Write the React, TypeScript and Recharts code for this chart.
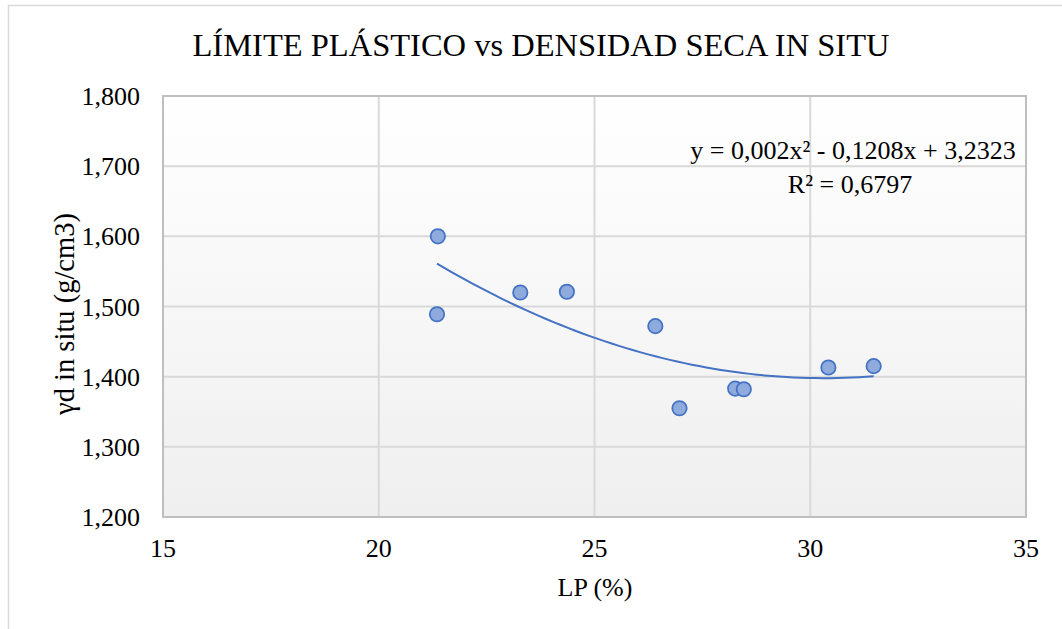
import React from "react";
import {
  ComposedChart,
  XAxis,
  YAxis,
  CartesianGrid,
  Scatter,
  Line,
  ReferenceArea,
} from "recharts";

// LP (%) vs dry density in situ (g/cm3)
const lpValues = [21.37, 21.35, 23.28, 24.36, 26.41, 26.97, 28.26, 28.46, 30.42, 31.47];
const densityValues = [1.6, 1.489, 1.52, 1.521, 1.472, 1.355, 1.383, 1.382, 1.413, 1.415];

const xTicks = [15, 20, 25, 30, 35];
const yTicks = [1.2, 1.3, 1.4, 1.5, 1.6, 1.7, 1.8];

const chartTitle = "LÍMITE PLÁSTICO vs DENSIDAD SECA IN SITU";
const xTitle = "LP (%)";
const yTitle = "γd in situ (g/cm3)";
const equationText = "y = 0,002x² - 0,1208x + 3,2323";
const r2Text = "R² = 0,6797";

const FONT = "'Liberation Serif', 'Times New Roman', serif";

const points = lpValues.map((x, i) => ({ x, y: densityValues[i] }));

// least squares quadratic through the points (like Excel's polynomial trendline)
function fitQuadratic(xs: number[], ys: number[]) {
  const m = xs.reduce((s, v) => s + v, 0) / xs.length;
  let s0 = 0, s1 = 0, s2 = 0, s3 = 0, s4 = 0, t0 = 0, t1 = 0, t2 = 0;
  xs.forEach((xv, i) => {
    const u = xv - m;
    const yv = ys[i];
    s0 += 1; s1 += u; s2 += u * u; s3 += u * u * u; s4 += u * u * u * u;
    t0 += yv; t1 += u * yv; t2 += u * u * yv;
  });
  const A = [
    [s0, s1, s2, t0],
    [s1, s2, s3, t1],
    [s2, s3, s4, t2],
  ];
  for (let c = 0; c < 3; c++) {
    for (let r = c + 1; r < 3; r++) {
      const f = A[r][c] / A[c][c];
      for (let k = c; k < 4; k++) A[r][k] -= f * A[c][k];
    }
  }
  const sol = [0, 0, 0];
  for (let r = 2; r >= 0; r--) {
    let v = A[r][3];
    for (let k = r + 1; k < 3; k++) v -= A[r][k] * sol[k];
    sol[r] = v / A[r][r];
  }
  return (xv: number) => {
    const u = xv - m;
    return sol[0] + sol[1] * u + sol[2] * u * u;
  };
}

const trendFn = fitQuadratic(lpValues, densityValues);
const xMin = Math.min(...lpValues);
const xMax = Math.max(...lpValues);
const trend = Array.from({ length: 61 }, (_, i) => {
  const x = xMin + ((xMax - xMin) * i) / 60;
  return { x, y: trendFn(x) };
});

const XTick = (props: any) => (
  <text
    x={props.x}
    y={props.y + 40}
    textAnchor="middle"
    fontFamily={FONT}
    fontSize={26}
    fill="#000"
  >
    {props.payload.value}
  </text>
);

const YTick = (props: any) => (
  <text
    x={props.x - 23}
    y={props.y}
    dy="0.35em"
    textAnchor="end"
    fontFamily={FONT}
    fontSize={26}
    fill="#000"
  >
    {props.payload.value.toFixed(3).replace(".", ",")}
  </text>
);

export default function App() {
  return (
    <div
      style={{
        position: "absolute",
        left: 0,
        top: 0,
        width: 1062,
        height: 629,
        background: "#fff",
      }}
    >
      <ComposedChart
        width={1062}
        height={629}
        margin={{ top: 96, right: 36, bottom: 82, left: 103 }}
      >
        <defs>
          <linearGradient id="plotBg" x1="0" y1="0" x2="0" y2="1">
            <stop offset="0%" stopColor="#ffffff" />
            <stop offset="100%" stopColor="#efefef" />
          </linearGradient>
        </defs>
        {/* chart area border (only left and top are visible) */}
        <rect
          x={8.5}
          y={5.5}
          width={2000}
          height={2000}
          fill="none"
          stroke="#d9d9d9"
          strokeWidth={1.5}
        />
        <CartesianGrid
          fill="url(#plotBg)"
          stroke="#d9d9d9"
          strokeWidth={2}
        />
        <XAxis
          type="number"
          dataKey="x"
          domain={[15, 35]}
          ticks={xTicks}
          axisLine={false}
          tickLine={false}
          tickSize={0}
          tickMargin={0}
          height={30}
          tick={XTick}
          allowDataOverflow
        />
        <YAxis
          type="number"
          dataKey="y"
          domain={[1.2, 1.8]}
          ticks={yTicks}
          axisLine={false}
          tickLine={false}
          tickSize={0}
          tickMargin={0}
          width={60}
          tick={YTick}
          allowDataOverflow
        />
        <ReferenceArea
          x1={15}
          x2={35}
          y1={1.2}
          y2={1.8}
          fill="none"
          stroke="#bfbfbf"
          strokeWidth={2}
          ifOverflow="visible"
        />
        <Line
          data={trend}
          dataKey="y"
          type="linear"
          stroke="#4472c4"
          strokeWidth={2}
          dot={false}
          activeDot={false}
          isAnimationActive={false}
        />
        <Scatter
          data={points}
          dataKey="y"
          fill="#8faadc"
          stroke="#4472c4"
          strokeWidth={1.75}
          shape={(p: any) => (
            <circle
              cx={p.cx}
              cy={p.cy}
              r={7.2}
              fill="#8faadc"
              stroke="#4472c4"
              strokeWidth={1.75}
            />
          )}
          isAnimationActive={false}
        />
        <text
          x={541}
          y={56}
          textAnchor="middle"
          fontFamily={FONT}
          fontSize={32.5}
          fill="#000"
        >
          {chartTitle}
        </text>
        <text
          x={853}
          y={159}
          textAnchor="middle"
          fontFamily={FONT}
          fontSize={26}
          fill="#000"
        >
          {equationText}
        </text>
        <text
          x={850}
          y={193}
          textAnchor="middle"
          fontFamily={FONT}
          fontSize={26}
          fill="#000"
        >
          {r2Text}
        </text>
        <text
          x={595}
          y={596}
          textAnchor="middle"
          fontFamily={FONT}
          fontSize={26}
          fill="#000"
        >
          {xTitle}
        </text>
        <text
          x={74}
          y={314}
          textAnchor="middle"
          fontFamily={FONT}
          fontSize={28.5}
          fill="#000"
          transform="rotate(-90, 74, 314)"
        >
          {yTitle}
        </text>
      </ComposedChart>
    </div>
  );
}
